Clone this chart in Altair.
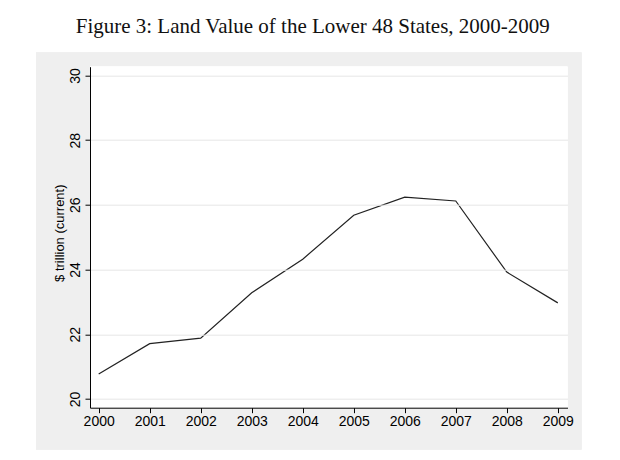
import altair as alt
import pandas as pd

years = [2000, 2001, 2002, 2003, 2004, 2005, 2006, 2007, 2008, 2009]
land_value = [20.77, 21.71, 21.88, 23.28, 24.32, 25.68, 26.24, 26.12, 23.92, 22.97]
y_ticks = [20, 22, 24, 26, 28, 30]

df = pd.DataFrame({"year": years, "value": land_value})

W, H = 477.5, 341

panel = alt.Chart(df).mark_rect(color="#efefef").encode(
    x=alt.value(-54), x2=alt.value(491.7), y=alt.value(-14), y2=alt.value(382.6)
)
plotbg = alt.Chart(df).mark_rect(color="white").encode(
    x=alt.value(0), x2=alt.value(W), y=alt.value(0), y2=alt.value(H)
)

line = alt.Chart(df).mark_line(color="#222222", strokeWidth=1.2).encode(
    x=alt.X(
        "year:Q",
        scale=alt.Scale(domain=[1999.83, 2009.19], nice=False, zero=False),
        axis=alt.Axis(
            title=None, values=years, format="d", grid=False,
            labelFont="Liberation Sans", labelFontSize=14, labelColor="black",
            labelPadding=2, tickSize=5, tickColor="black", domainColor="black",
            labelFlush=False, labelOverlap=False, zindex=1,
        ),
    ),
    y=alt.Y(
        "value:Q",
        scale=alt.Scale(domain=[19.73, 30.27], nice=False, zero=False),
        axis=alt.Axis(
            title="$ trillion (current)", values=y_ticks, format="d",
            grid=True, gridColor="#e6e6e6", gridWidth=1,
            labelFont="Liberation Sans", labelFontSize=14, labelColor="black",
            labelAngle=270, labelAlign="center", labelBaseline="bottom",
            labelPadding=3, tickSize=5, tickColor="black", domainColor="black",
            titleFont="Liberation Sans", titleFontSize=13, titleFontWeight="normal",
            titleColor="black", titleAngle=270, titleAlign="center",
            titleBaseline="middle", titleX=-31, titleY=166,
            labelFlush=False, labelOverlap=False, zindex=1,
        ),
    ),
)

chart = alt.layer(panel, plotbg, line).properties(
    width=W,
    height=H,
    title=alt.TitleParams(
        "Figure 3: Land Value of the Lower 48 States, 2000-2009",
        font="Liberation Serif", fontSize=21, fontWeight="normal",
        color="#111111", anchor="middle", frame="group", dx=-16, dy=22,
        offset=17, baseline="bottom",
    ),
    autosize=alt.AutoSizeParams(type="none"),
    padding={"left": 82, "top": 58.7, "right": 40, "bottom": 43},
    background="white",
).configure_view(stroke=None)

chart.save("out.html", embed_options={"renderer": "svg", "actions": False})
